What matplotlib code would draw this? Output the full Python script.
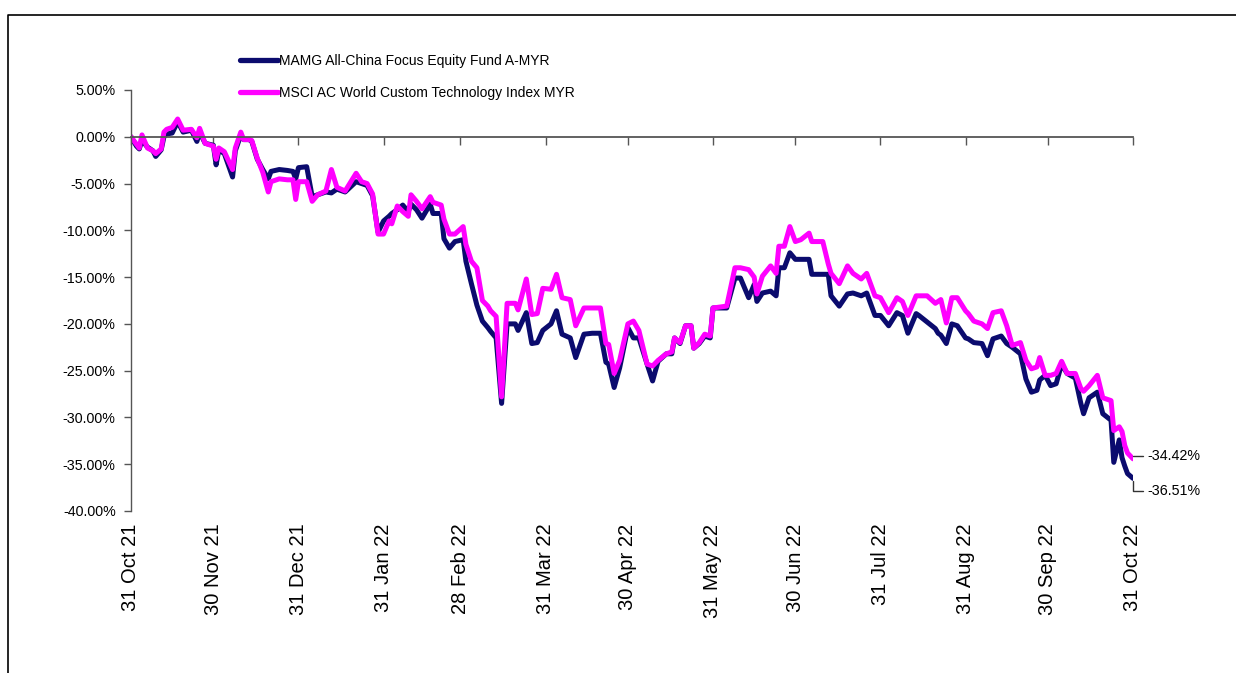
import numpy as np
import pandas as pd
import matplotlib
matplotlib.use("Agg")
import matplotlib.pyplot as plt
import matplotlib.dates as mdates
from matplotlib import font_manager
from matplotlib.lines import Line2D

# days since 31 Oct 21
days = [0, 2, 3, 4, 6, 8, 9, 11, 12, 13, 15, 17, 19, 22, 24, 25, 27, 30, 31, 32,
        34, 37, 38, 40, 41, 43, 44, 46, 48, 50, 51, 54, 57, 59, 60, 61, 64, 66, 68, 71,
        73, 75, 78, 82, 84, 86, 88, 90, 92, 94, 95, 97, 99, 101, 102, 104, 106, 109, 110, 113,
        114, 116, 118, 121, 122, 124, 126, 128, 130, 131, 133, 135, 137, 140, 141, 144, 146, 148, 150, 153,
        155, 157, 160, 162, 165, 168, 171, 173, 174, 176, 178, 181, 183, 185, 188, 190, 192, 195, 197, 198,
        200, 202, 204, 205, 207, 209, 211, 212, 217, 220, 222, 225, 227, 228, 230, 233, 235, 236, 238, 240,
        242, 244, 247, 248, 252, 254, 255, 258, 261, 263, 266, 268, 271, 273, 276, 279, 281, 283, 286, 287,
        290, 293, 294, 295, 297, 299, 301, 304, 305, 307, 310, 312, 314, 317, 319, 321, 324, 326, 328, 330,
        331, 333, 335, 337, 339, 341, 344, 346, 347, 349, 352, 354, 357, 358, 360, 361, 362, 363, 365]

fund = [0, -1.0, -1.3, -0.4, -1.1, -1.5, -2.1, -1.4, 0.0, 0.3, 0.4, 1.6, 0.5, 0.7, -0.5, 0.5, -0.7, -0.9, -3.0, -1.4,
        -1.8, -4.3, -1.5, 0.2, -0.3, -0.3, -0.5, -2.4, -3.5, -4.5, -3.7, -3.5, -3.6, -3.7, -4.5, -3.3, -3.2, -6.4, -6.2, -5.9,
        -6.0, -5.6, -5.9, -4.8, -5.0, -5.2, -6.3, -10.2, -9.0, -8.5, -8.2, -7.8, -7.3, -8.0, -7.2, -7.8, -8.7, -7.2, -8.2, -8.2,
        -10.9, -11.9, -11.2, -11.0, -13.3, -15.7, -18.0, -19.7, -20.4, -20.8, -21.5, -28.5, -20.0, -20.0, -20.7, -18.8, -22.1, -22.0, -20.7, -20.0,
        -18.6, -21.1, -21.5, -23.6, -21.1, -21.0, -21.0, -24.1, -24.3, -26.8, -24.7, -20.4, -21.5, -21.5, -24.3, -26.1, -24.0, -23.2, -23.2, -21.5,
        -22.1, -20.2, -20.2, -22.6, -22.1, -21.3, -21.5, -18.3, -18.3, -15.1, -15.1, -17.2, -15.8, -17.6, -16.7, -16.5, -17.0, -14.0, -14.0, -12.4,
        -13.1, -13.1, -13.1, -14.7, -14.7, -14.7, -17.0, -18.1, -16.8, -16.7, -17.0, -16.7, -19.1, -19.1, -20.2, -18.8, -19.1, -21.0, -18.9, -19.1,
        -19.8, -20.5, -21.0, -21.2, -22.1, -20.0, -20.2, -21.5, -21.6, -22.0, -22.1, -23.4, -21.6, -21.3, -22.1, -22.5, -23.2, -25.9, -27.3, -27.1,
        -26.0, -25.5, -26.6, -26.4, -24.3, -25.3, -25.8, -28.5, -29.6, -27.9, -27.3, -29.6, -30.3, -34.8, -32.4, -34.3, -35.2, -36.0, -36.51]

index = [0, -0.8, -1.2, 0.2, -1.2, -1.5, -1.8, -1.3, 0.5, 0.8, 1.0, 1.9, 0.7, 0.8, -0.1, 0.9, -0.7, -1.0, -2.4, -1.2,
         -1.6, -3.5, -1.2, 0.5, -0.3, -0.3, -0.4, -2.3, -3.8, -5.9, -4.8, -4.5, -4.6, -4.6, -6.7, -4.8, -4.8, -6.9, -6.2, -5.8,
         -3.5, -5.4, -5.8, -3.9, -4.8, -5.0, -6.1, -10.4, -10.4, -9.0, -9.3, -7.4, -8.0, -8.5, -6.2, -6.9, -7.7, -6.4, -7.0, -7.3,
         -8.8, -10.4, -10.4, -9.6, -11.5, -13.3, -14.0, -17.5, -18.1, -18.6, -19.2, -27.8, -17.8, -17.8, -18.5, -15.2, -19.0, -18.9, -16.2, -16.3,
         -14.7, -17.2, -17.4, -20.2, -18.3, -18.3, -18.3, -22.1, -22.2, -25.3, -23.9, -20.0, -19.7, -20.7, -24.3, -24.5, -23.9, -23.2, -23.0, -21.5,
         -22.0, -20.2, -20.2, -22.6, -22.0, -21.1, -21.3, -18.3, -18.1, -14.0, -14.0, -14.2, -15.0, -16.8, -14.9, -13.8, -14.6, -11.7, -11.7, -9.6,
         -11.2, -11.0, -10.3, -11.2, -11.2, -13.6, -14.6, -15.7, -13.8, -14.6, -15.2, -14.6, -17.0, -17.2, -18.8, -17.2, -17.6, -19.1, -17.0, -17.0,
         -17.0, -17.8, -17.6, -17.4, -19.9, -17.2, -17.2, -18.6, -18.9, -19.7, -20.0, -20.5, -18.8, -18.6, -20.2, -22.3, -22.0, -23.9, -24.8, -24.6,
         -23.6, -25.5, -25.5, -25.3, -24.0, -25.3, -25.3, -26.9, -27.2, -26.6, -25.5, -27.9, -28.2, -31.4, -31.0, -31.5, -33.0, -33.8, -34.42]

fund_name = "MAMG All-China Focus Equity Fund A-MYR"
index_name = "MSCI AC World Custom Technology Index MYR"
tick_dates = ["2021-10-31", "2021-11-30", "2021-12-31", "2022-01-31", "2022-02-28", "2022-03-31", "2022-04-30",
              "2022-05-31", "2022-06-30", "2022-07-31", "2022-08-31", "2022-09-30", "2022-10-31"]
y_ticks = [5, 0, -5, -10, -15, -20, -25, -30, -35, -40]

assert len(days) == len(fund) == len(index)

names = {f.name for f in font_manager.fontManager.ttflist}
narrow = "Liberation Sans Narrow" in names
plt.rcParams["font.family"] = "Liberation Sans Narrow" if narrow else "Liberation Sans"
fs = 12.5 if narrow else 10

dates = pd.Timestamp("2021-10-31") + pd.to_timedelta(days, unit="D")
ticks = mdates.date2num(pd.to_datetime(tick_dates))
tick_labels = [pd.Timestamp(t).strftime("%d %b %y") for t in tick_dates]

navy = "#0b0b6e"
pink = "#ff00ff"
axis_col = "#555555"

fig = plt.figure(figsize=(12.36, 6.73), dpi=100)
ax = fig.add_axes([131 / 1236, 1 - 511 / 673, 1002 / 1236, 421 / 673])

ax.plot(dates, fund, color=navy, lw=3.6, solid_joinstyle="round", solid_capstyle="round", label=fund_name)
ax.plot(dates, index, color=pink, lw=3.6, solid_joinstyle="round", solid_capstyle="round", label=index_name)

ax.set_xlim(ticks[0], ticks[-1])
ax.set_ylim(-40, 5)

# zero line carries the month ticks, labels sit under the plot
ax.spines["bottom"].set_position(("data", 0))
ax.spines["bottom"].set_color(axis_col)
ax.spines["bottom"].set_linewidth(1.3)
ax.spines["left"].set_color(axis_col)
ax.spines["left"].set_linewidth(1.0)
ax.spines["top"].set_visible(False)
ax.spines["right"].set_visible(False)
ax.set_xticks(ticks)
ax.tick_params(axis="x", labelbottom=False, direction="out", length=6, width=1.0, color=axis_col)

sec = ax.secondary_xaxis("bottom")
sec.set_xticks(ticks, labels=tick_labels, rotation=90, family="Liberation Sans", fontsize=14.5)
sec.tick_params(length=0, pad=9)
sec.spines["bottom"].set_visible(False)

ax.set_yticks(y_ticks)
ax.set_yticklabels([f"{v:.2f}%" for v in y_ticks], fontsize=fs + 0.3)
ax.tick_params(axis="y", direction="out", length=5, width=1.0, color=axis_col, pad=6)

# end-value labels with leader lines
ax.annotate(f"{index[-1]:.2f}%", xy=(dates[-1], index[-1]), xytext=(14, 3), textcoords="offset pixels",
            ha="left", va="center", fontsize=fs + 0.3,
            arrowprops=dict(arrowstyle="-", color="#333333", lw=1.0, shrinkA=1, shrinkB=2,
                            connectionstyle="angle,angleA=0,angleB=90,rad=0"))
ax.annotate(f"{fund[-1]:.2f}%", xy=(dates[-1], fund[-1]), xytext=(14, -13), textcoords="offset pixels",
            ha="left", va="center", fontsize=fs + 0.3,
            arrowprops=dict(arrowstyle="-", color="#333333", lw=1.0, shrinkA=1, shrinkB=2,
                            connectionstyle="angle,angleA=0,angleB=90,rad=0"))

leg = ax.legend(loc="upper left", bbox_to_anchor=(240 / 1236, 1 - 54 / 673), bbox_transform=fig.transFigure,
                frameon=False, fontsize=fs, handlelength=2.75, handletextpad=0.05, labelspacing=1.32,
                borderpad=0, borderaxespad=0)
for h in leg.get_lines():
    h.set_linewidth(3.8)
    h.set_solid_capstyle("round")

# outer frame (left and top edges only show in the crop)
fig.add_artist(Line2D([8 / 1236, 8 / 1236, 1], [0, 1 - 15 / 673, 1 - 15 / 673],
                      transform=fig.transFigure, color="black", lw=1.2))

fig.savefig("out.png", dpi=100, facecolor="white")
